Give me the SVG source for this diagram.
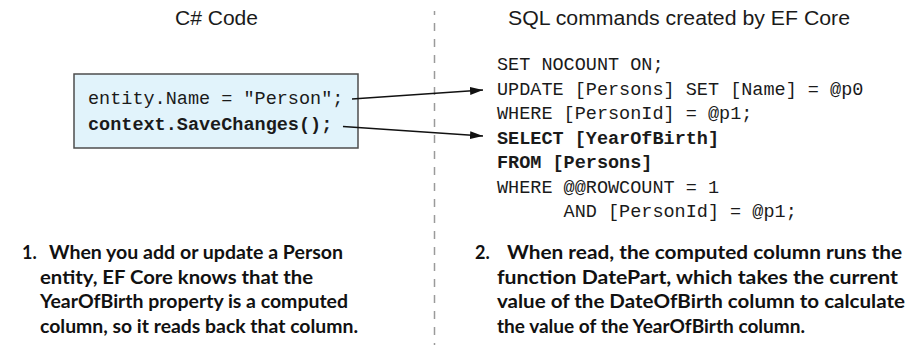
<svg xmlns="http://www.w3.org/2000/svg" width="917" height="345" viewBox="0 0 917 345">
<style>
.title{font-family:"Liberation Sans",Arial,sans-serif;font-size:20px;fill:#1a1a1a}
.mono{font-family:"Liberation Mono","Courier New",monospace;font-size:18.5px;fill:#1a1a1a}
.b{font-weight:bold}
.note{font-family:Lato,"Open Sans",sans-serif;font-weight:bold;font-size:18px;fill:#111}
.conn{stroke:#111;stroke-width:1.3;fill:none}
</style>
<defs>
<marker id="ah" markerUnits="userSpaceOnUse" markerWidth="14" markerHeight="10" refX="13" refY="4" orient="auto">
<path d="M0,0 L13,4 L0,8 Z" fill="#111"/>
</marker>
</defs>
<rect width="917" height="345" fill="#fff"/>
<g id="divider">
<line x1="434.5" y1="11" x2="434.5" y2="345" stroke="#9a9a9a" stroke-width="1.5" stroke-dasharray="8 8" stroke-dashoffset="4"/>
</g>
<g id="title-csharp"><text class="title" x="216.5" y="25" text-anchor="middle" textLength="83" lengthAdjust="spacingAndGlyphs">C# Code</text></g>
<g id="title-sql"><text class="title" x="679" y="25" text-anchor="middle" textLength="342" lengthAdjust="spacingAndGlyphs">SQL commands created by EF Core</text></g>
<g id="csharp-code">
<rect x="74" y="74" width="284" height="74" fill="#e1f3fb" stroke="#4d4d4d" stroke-width="1.5"/>
<text class="mono" x="88" y="104">entity.Name = "Person";</text>
<text class="mono b" x="88" y="130">context.SaveChanges();</text>
</g>
<g id="sql-code">
<text class="mono" x="497" y="70">SET NOCOUNT ON;</text>
<text class="mono" x="497" y="94.5">UPDATE [Persons] SET [Name] = @p0</text>
<text class="mono" x="497" y="119">WHERE [PersonId] = @p1;</text>
<text class="mono b" x="497" y="143.5">SELECT [YearOfBirth]</text>
<text class="mono b" x="497" y="168">FROM [Persons]</text>
<text class="mono" x="497" y="192.5">WHERE @@ROWCOUNT = 1</text>
<text class="mono" x="563.6" y="217">AND [PersonId] = @p1;</text>
</g>
<g id="connectors">
<line class="conn" x1="352" y1="99" x2="483" y2="90" marker-end="url(#ah)"/>
<line class="conn" x1="343" y1="126.5" x2="483" y2="136" marker-end="url(#ah)"/>
</g>
<g id="note-1">
<text class="note" x="22" y="259">1.</text>
<text class="note" x="49" y="259" textLength="294" lengthAdjust="spacingAndGlyphs">When you add or update a Person</text>
<text class="note" x="40" y="283.5" textLength="273" lengthAdjust="spacingAndGlyphs">entity, EF Core knows that the</text>
<text class="note" x="40" y="308" textLength="308" lengthAdjust="spacingAndGlyphs">YearOfBirth property is a computed</text>
<text class="note" x="40" y="332.5" textLength="318" lengthAdjust="spacingAndGlyphs">column, so it reads back that column.</text>
</g>
<g id="note-2">
<text class="note" x="475" y="259">2.</text>
<text class="note" x="507" y="259" textLength="395" lengthAdjust="spacingAndGlyphs">When read, the computed column runs the</text>
<text class="note" x="497" y="283.5" textLength="401" lengthAdjust="spacingAndGlyphs">function DatePart, which takes the current</text>
<text class="note" x="497" y="308" textLength="408" lengthAdjust="spacingAndGlyphs">value of the DateOfBirth column to calculate</text>
<text class="note" x="497" y="332.5" textLength="308" lengthAdjust="spacingAndGlyphs">the value of the YearOfBirth column.</text>
</g>
</svg>
